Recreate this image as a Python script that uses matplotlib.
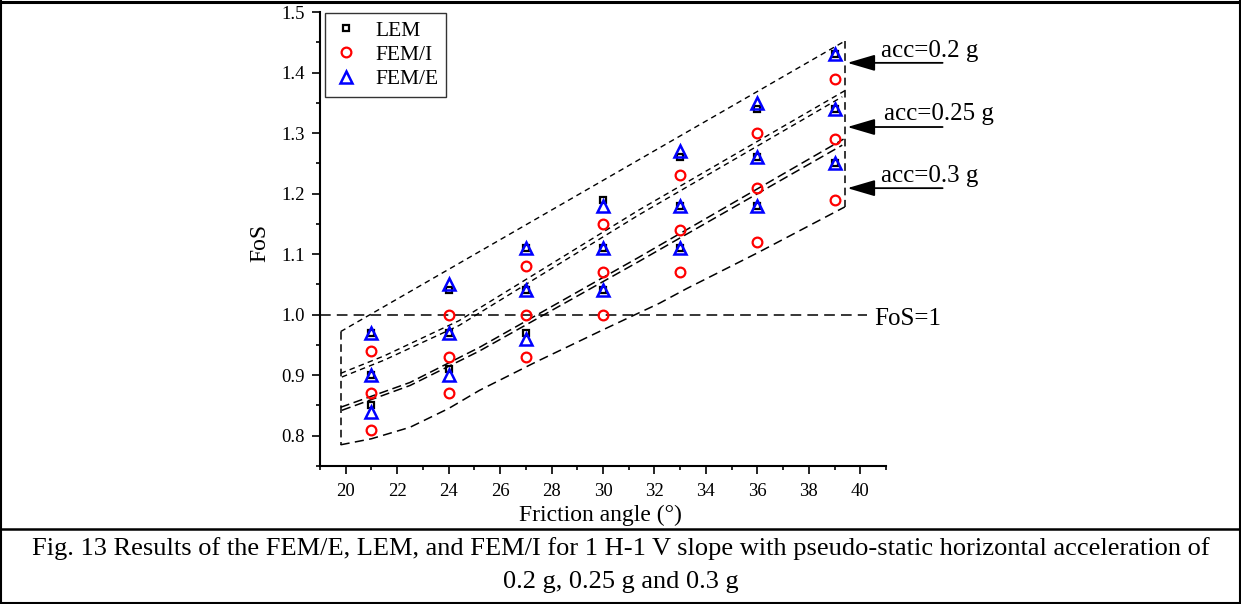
import matplotlib
matplotlib.use("Agg")
import matplotlib.pyplot as plt
from matplotlib.lines import Line2D

plt.rcParams['font.family'] = ['Liberation Serif', 'DejaVu Serif']

# ---------------- data ----------------
friction = [21, 24, 27, 30, 33, 36, 39]

lem_02 = [0.97, 1.04, 1.11, 1.19, 1.26, 1.34, 1.43]
fei_02 = [0.94, 1.00, 1.08, 1.15, 1.23, 1.30, 1.39]
fee_02 = [0.97, 1.05, 1.11, 1.18, 1.27, 1.35, 1.43]

lem_025 = [0.90, 0.97, 1.04, 1.11, 1.18, 1.26, 1.34]
fei_025 = [0.87, 0.93, 1.00, 1.07, 1.14, 1.21, 1.29]
fee_025 = [0.90, 0.97, 1.04, 1.11, 1.18, 1.26, 1.34]

lem_03 = [0.85, 0.91, 0.97, 1.04, 1.11, 1.18, 1.25]
fei_03 = [0.81, 0.87, 0.93, 1.00, 1.07, 1.12, 1.19]
fee_03 = [0.84, 0.90, 0.96, 1.04, 1.11, 1.18, 1.25]

# envelope guide lines (x, FoS)
env_top_x = [19.8, 39.4]
env_top_y = [0.972, 1.452]
env_02_low_x = [19.8, 21.5, 24.4, 31.4, 39.4]
env_02_low_y = [0.903, 0.932, 0.990, 1.173, 1.370]
env_025_up_x = [19.85, 21.5, 24.4, 31.4, 39.3]
env_025_up_y = [0.897, 0.925, 0.982, 1.165, 1.360]
env_025_low_x = [19.8, 22.5, 25.2, 31.4, 39.35]
env_025_low_y = [0.847, 0.888, 0.946, 1.095, 1.290]
env_03_up_x = [19.85, 22.5, 25.2, 31.4, 39.3]
env_03_up_y = [0.842, 0.883, 0.940, 1.088, 1.280]
env_bot_x = [19.8, 21.0, 22.5, 24.0, 25.2, 27.4, 30.0, 32.2, 33.25, 36.0, 39.4]
env_bot_y = [0.785, 0.795, 0.814, 0.845, 0.875, 0.922, 0.975, 1.019, 1.043, 1.102, 1.178]
env_left_x = [19.8, 19.8]
env_left_y = [0.972, 0.785]
env_right_x = [39.4, 39.4]
env_right_y = [1.452, 1.178]

fos_ref = 1.0
acc_labels = ["acc=0.2 g", "acc=0.25 g", "acc=0.3 g"]
acc_arrow_y = [1.416, 1.310, 1.209]
acc_text_y = [1.4256, 1.3215, 1.2195]
acc_text_x = [40.79, 40.94, 40.79]

xticks = [20, 22, 24, 26, 28, 30, 32, 34, 36, 38, 40]
yticks = [0.8, 0.9, 1.0, 1.1, 1.2, 1.3, 1.4, 1.5]

# ---------------- figure ----------------
W, H = 1241, 604
fig = plt.figure(figsize=(W / 100, H / 100), dpi=100)
ax_l, ax_r, ax_t, ax_b = 320, 886, 12, 466
ax = fig.add_axes([ax_l / W, 1 - ax_b / H, (ax_r - ax_l) / W, (ax_b - ax_t) / H])

ax.set_xlim(19, 41)
ax.set_ylim(0.75, 1.5)

# envelope lines
env_kw = dict(color='black', lw=1.0, ls=(0, (4, 3)), zorder=1)
ax.plot(env_top_x, env_top_y, **env_kw)
ax.plot(env_02_low_x, env_02_low_y, **env_kw)
ax.plot(env_025_up_x, env_025_up_y, **env_kw)
ax.plot(env_025_low_x, env_025_low_y, color='black', lw=1.1, ls=(0, (6, 3)), zorder=1)
ax.plot(env_03_up_x, env_03_up_y, color='black', lw=1.1, ls=(0, (6, 3)), zorder=1)
ax.plot(env_bot_x, env_bot_y, color='black', lw=1.1, ls=(0, (6, 3.5)), zorder=1)
ax.plot(env_left_x, env_left_y, color='black', lw=1.1, ls=(0, (5, 3)), zorder=1)
ax.plot(env_right_x, env_right_y, color='black', lw=1.1, ls=(0, (5, 3)), zorder=1)

# FoS = 1 line
ax.plot([19, 40.25], [fos_ref, fos_ref], color='black', lw=1.1, ls=(0, (7, 4)), zorder=1)
ax.text(40.55, 0.983, "FoS=1", fontsize=18, ha='left', va='baseline', clip_on=False)

# markers
sq = dict(marker='s', ls='none', mfc='none', mec='black', ms=5, mew=1.6, zorder=3)
ci = dict(marker='o', ls='none', mfc='none', mec='red', ms=7, mew=1.6, zorder=4)
tr = dict(marker='^', ls='none', mfc='none', mec='blue', ms=8, mew=1.8, zorder=5)

for lem, fei, fee in [(lem_02, fei_02, fee_02), (lem_025, fei_025, fee_025), (lem_03, fei_03, fee_03)]:
    ax.plot(friction, lem, **sq)
    ax.plot(friction, fei, **ci)
    ax.plot(friction, fee, **tr)

handles = [Line2D([], [], **sq), Line2D([], [], **ci), Line2D([], [], **tr)]
leg = ax.legend(handles, ["LEM", "FEM/I", "FEM/E"], loc='upper left',
                bbox_to_anchor=(0.009, 0.998), borderaxespad=0, fontsize=15.5,
                fancybox=False, framealpha=1, edgecolor='#333333',
                handlelength=1.2, handletextpad=0.8, borderpad=0.35,
                labelspacing=0.2)
leg.get_frame().set_linewidth(1.0)

# acceleration annotations
for lab, ay, ty, tx in zip(acc_labels, acc_arrow_y, acc_text_y, acc_text_x):
    ax.annotate("", xy=(39.5, ay), xytext=(43.2, ay),
                arrowprops=dict(arrowstyle='-|>,head_length=1.7,head_width=0.5',
                                color='black', lw=1.3, mutation_scale=10,
                                shrinkA=0, shrinkB=0),
                annotation_clip=False)
    ax.text(tx, ty, lab, fontsize=18, ha='left', va='baseline', clip_on=False)

# axes styling
for s in ['top', 'right']:
    ax.spines[s].set_visible(False)
for s in ['left', 'bottom']:
    ax.spines[s].set_linewidth(1.5)
ax.set_xticks(xticks)
ax.set_xticklabels([str(v) for v in xticks])
ax.set_yticks(yticks)
ax.set_yticklabels([f"{v:.1f}" for v in yticks])
ax.set_xticks([19, 21, 23, 25, 27, 29, 31, 33, 35, 37, 39, 41], minor=True)
ax.set_yticks([0.75, 0.85, 0.95, 1.05, 1.15, 1.25, 1.35, 1.45], minor=True)
ax.tick_params(which='major', direction='out', length=6, width=1.2, labelsize=13.5, pad=5)
ax.tick_params(axis='x', which='major', pad=6)
ax.tick_params(which='minor', direction='out', length=3, width=1.2)

ax.set_xlabel("Friction angle (°)", fontsize=17)
ax.xaxis.set_label_coords((600 - ax_l) / (ax_r - ax_l), -(515 - ax_b) / (ax_b - ax_t))
ax.xaxis.label.set_va('center')
ax.set_ylabel("FoS", fontsize=17)
ax.yaxis.set_label_coords((260 - ax_l) / (ax_r - ax_l), 1 - (243 - ax_t) / (ax_b - ax_t))
ax.yaxis.label.set_va('center')

# table borders
def hline(py, x0=1, x1=1239, lw=1.5):
    fig.add_artist(Line2D([x0 / W, x1 / W], [1 - py / H, 1 - py / H], color='black', lw=lw,
                          transform=fig.transFigure))

def vline(px, y0=1, y1=603, lw=1.5):
    fig.add_artist(Line2D([px / W, px / W], [1 - y0 / H, 1 - y1 / H], color='black', lw=lw,
                          transform=fig.transFigure))

hline(1.5, lw=2.2)
hline(528.5, lw=1.8)
hline(602.5, lw=1.5)
vline(1.0)
vline(1239.5)

fig.text(0.5, 1 - 549 / H, "Fig. 13 Results of the FEM/E, LEM, and FEM/I for 1 H-1 V slope with pseudo-static horizontal acceleration of",
         ha='center', va='center', fontsize=19)
fig.text(0.5, 1 - 582 / H, "0.2 g, 0.25 g and 0.3 g", ha='center', va='center', fontsize=19)

fig.savefig("out.png", dpi=100)
